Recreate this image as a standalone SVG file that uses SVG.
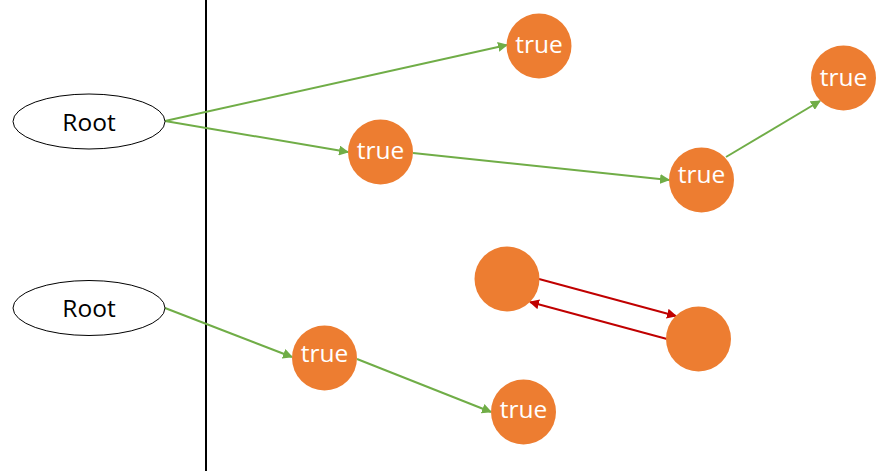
<svg xmlns="http://www.w3.org/2000/svg" width="890" height="471" viewBox="0 0 890 471">
<defs>
<style>
.n{fill:#ED7D31}
.t{fill:#fff;font-family:"Open Sans","Noto Sans",sans-serif;font-size:24.5px;text-anchor:middle}
.r{fill:#fff;stroke:#000;stroke-width:1}
.rt{fill:#000;font-family:"Open Sans","Noto Sans",sans-serif;font-size:24.5px;text-anchor:middle}
.g{stroke:#70AD47;stroke-width:2;fill:none;marker-end:url(#ag)}
.d{stroke:#C00000;stroke-width:2;fill:none;marker-end:url(#ar)}
</style>
<marker id="ag" viewBox="0 0 10 10" refX="9" refY="5" markerWidth="5" markerHeight="5" orient="auto" markerUnits="strokeWidth"><path d="M0,0L10,5L0,10z" fill="#70AD47"/></marker>
<marker id="ar" viewBox="0 0 10 10" refX="9" refY="5" markerWidth="5" markerHeight="5" orient="auto" markerUnits="strokeWidth"><path d="M0,0L10,5L0,10z" fill="#C00000"/></marker>
</defs>
<rect width="890" height="471" fill="#fff"/>
<line x1="206" y1="0" x2="206" y2="471" stroke="#000" stroke-width="2"/>
<g id="connectors">
<line class="g" x1="165" y1="121" x2="507" y2="45"/>
<line class="g" x1="165" y1="121" x2="348" y2="152"/>
<line class="g" x1="413" y1="153" x2="669" y2="180"/>
<line class="g" x1="726" y1="157" x2="820" y2="101"/>
<line class="g" x1="165" y1="308" x2="292" y2="357"/>
<line class="g" x1="357" y1="359" x2="491" y2="412"/>
<line class="d" x1="539" y1="279" x2="676" y2="316"/>
<line class="d" x1="667" y1="339" x2="530" y2="302"/>
</g>
<g id="root1"><ellipse class="r" cx="89" cy="121.5" rx="76" ry="27.5"/><text class="rt" x="89" y="130.5">Root</text></g>
<g id="root2"><ellipse class="r" cx="89" cy="308" rx="76" ry="27.5"/><text class="rt" x="89" y="317">Root</text></g>
<g id="n1"><circle class="n" cx="539" cy="46" r="32.5"/><text class="t" x="539" y="53">true</text></g>
<g id="n2"><circle class="n" cx="380.5" cy="152" r="32.5"/><text class="t" x="380.5" y="159">true</text></g>
<g id="n3"><circle class="n" cx="701.5" cy="180" r="32.5"/><text class="t" x="701.5" y="183">true</text></g>
<g id="n4"><circle class="n" cx="843.5" cy="78" r="32.5"/><text class="t" x="843.5" y="86">true</text></g>
<g id="n5"><circle class="n" cx="507" cy="279" r="32.5"/></g>
<g id="n6"><circle class="n" cx="698.5" cy="339" r="32.5"/></g>
<g id="n7"><circle class="n" cx="324.5" cy="358" r="32.5"/><text class="t" x="324.5" y="362">true</text></g>
<g id="n8"><circle class="n" cx="523.5" cy="412" r="32.5"/><text class="t" x="523.5" y="418">true</text></g>
</svg>
